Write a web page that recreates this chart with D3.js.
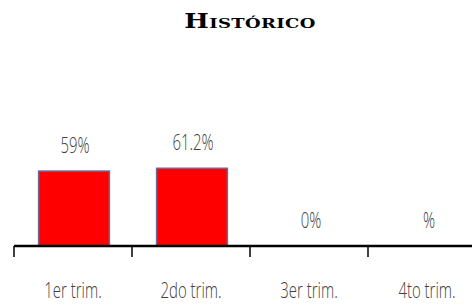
<!DOCTYPE html>
<html><head><meta charset="utf-8">
<script src="https://cdn.jsdelivr.net/npm/d3@7"></script>
<style>body{margin:0;background:#fff}svg{display:block}</style>
</head><body>
<svg id="c" width="472" height="307"></svg>
<script>
const categories = ["1er trim.", "2do trim.", "3er trim.", "4to trim."];
const values = [59, 61.2, 0, null];
const valueLabels = ["59%", "61.2%", "0%", "%"];
const title = "Histórico";

const svg = d3.select("#c");
const x = d3.scaleBand().domain(categories).range([14, 486]).paddingInner(0.4).paddingOuter(0.2);
const y = d3.scaleLinear().domain([0, 100]).range([246, 119]);
const labelFont = "'Open Sans','DejaVu Sans',sans-serif";
const sx = 0.68;

svg.append("text").attr("transform", "translate(250,28) scale(1.3,1)").attr("text-anchor", "middle")
  .style("font-family", "'DejaVu Serif','Liberation Serif',serif")
  .style("font-variant", "small-caps").style("font-weight", "600")
  .style("font-size", "20px").style("letter-spacing", "0.3px").text(title);

const data = categories.map((c, i) => ({c, v: values[i], l: valueLabels[i]}));

svg.selectAll("rect.bar").data(data.filter(d => d.v)).join("rect").attr("class", "bar")
  .attr("x", d => x(d.c) + 1).attr("width", x.bandwidth())
  .attr("y", d => y(d.v)).attr("height", d => y(0) - y(d.v))
  .attr("fill", "#ff0000").attr("stroke", "#6a6a9a").attr("stroke-width", 1.5);

svg.selectAll("text.vl").data(data).join("text").attr("class", "vl")
  .attr("transform", d => `translate(${x(d.c) + x.bandwidth() / 2 + 2},${y(d.v || 0) - 18}) scale(${sx},1)`)
  .attr("text-anchor", "middle")
  .style("font-family", labelFont).style("font-weight", "300").style("font-size", "22px").attr("fill", "#404040")
  .text(d => d.l);

const xb = d3.scaleBand().domain(categories).range([14, 486]);
const axis = svg.append("g");
axis.append("line").attr("x1", 14).attr("x2", 472).attr("y1", y(0)).attr("y2", y(0))
  .attr("stroke", "#000").attr("stroke-width", 2.5);
axis.selectAll("line.tk").data(categories).join("line").attr("class", "tk")
  .attr("x1", d => xb(d)).attr("x2", d => xb(d)).attr("y1", y(0)).attr("y2", y(0) + 11)
  .attr("stroke", "#000").attr("stroke-width", 1.5);
axis.selectAll("text.cl").data(categories).join("text").attr("class", "cl")
  .attr("transform", d => `translate(${xb(d) + xb.bandwidth() / 2},298) scale(${sx},1)`)
  .attr("text-anchor", "middle")
  .style("font-family", labelFont).style("font-weight", "300").style("font-size", "22px").attr("fill", "#404040")
  .text(d => d);
</script>
</body></html>
